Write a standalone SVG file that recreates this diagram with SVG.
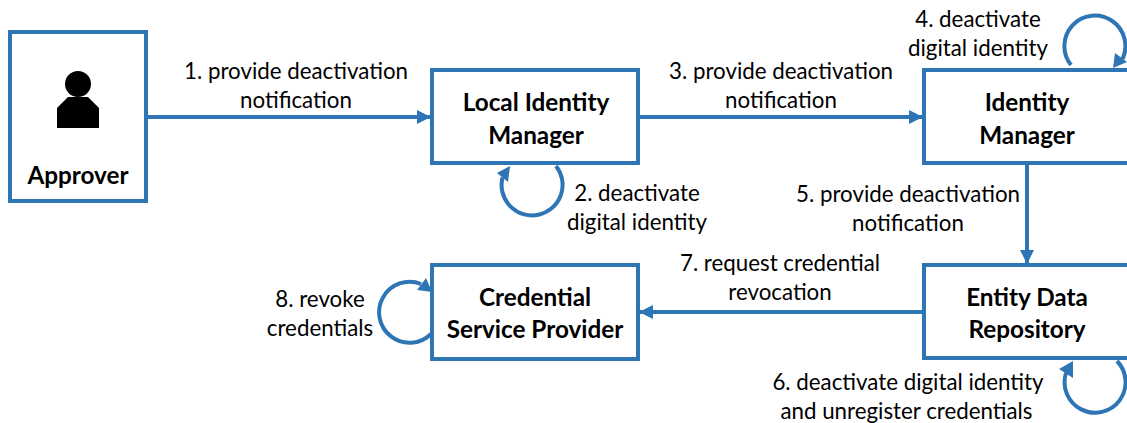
<svg xmlns="http://www.w3.org/2000/svg" width="1127" height="423" viewBox="0 0 1127 423">
<style>
text{font-family:"Lato","Carlito","Liberation Sans",sans-serif;fill:#000;font-size:22.300px;text-anchor:middle}
.n{fill:#fff;stroke:#2e75b6;stroke-width:4}
.b{font-weight:700;font-size:24.300px}
.c{fill:none;stroke:#2e75b6;stroke-width:4}
.h{fill:#2e75b6}
</style>
<defs>
<marker id="a" markerUnits="userSpaceOnUse" markerWidth="16" markerHeight="16" refX="14" refY="8" orient="auto"><path class="h" d="M0 1L14 8L0 15Z"/></marker>
</defs>
<rect width="1127" height="423" fill="#fff"/>
<g id="approver">
<rect class="n" x="10" y="32" width="136" height="169"/>
<circle cx="78" cy="84" r="13"/>
<path d="M68 97H88L99 108V128H57V108Z"/>
<text class="b" x="78" y="184">Approver</text>
</g>
<g id="local-identity-manager">
<rect class="n" x="432" y="70" width="206" height="93"/>
<text class="b" x="536" y="111">Local Identity</text>
<text class="b" x="536" y="144">Manager</text>
</g>
<g id="identity-manager">
<rect class="n" x="924" y="70" width="215" height="93"/>
<text class="b" x="1027" y="111">Identity</text>
<text class="b" x="1027" y="144">Manager</text>
</g>
<g id="entity-data-repository">
<rect class="n" x="924" y="265" width="215" height="93"/>
<text class="b" x="1027" y="306">Entity Data</text>
<text class="b" x="1027" y="338">Repository</text>
</g>
<g id="credential-service-provider">
<rect class="n" x="432" y="265" width="206" height="94"/>
<text class="b" x="535" y="306">Credential</text>
<text class="b" x="535" y="338">Service Provider</text>
</g>
<g id="connectors">
<path class="c" marker-end="url(#a)" d="M146 117H431"/>
<path class="c" marker-end="url(#a)" d="M638 117H923"/>
<path class="c" marker-end="url(#a)" d="M1027 163V264"/>
<path class="c" marker-end="url(#a)" d="M924 312H639"/>
<path class="c" d="M1071 65A30.500 30.500 0 1 1 1122.500 59"/>
<path class="h" d="M1113 68L1115 53L1127 62Z"/>
<path class="c" d="M556 166A30.500 30.500 0 1 1 502.500 177.500"/>
<path class="h" d="M510 166L497 173L508 182Z"/>
<path class="c" d="M431 334A30.500 30.500 0 1 1 421 284"/>
<path class="h" d="M432 292L417 290L426 278Z"/>
<path class="c" d="M1117 361A30.500 30.500 0 1 1 1066 373"/>
<path class="h" d="M1073 361L1059 369L1073 378Z"/>
</g>
<g id="labels">
<text x="296" y="79">1. provide deactivation</text>
<text x="296" y="108">notification</text>
<text x="637" y="201">2. deactivate</text>
<text x="637" y="230">digital identity</text>
<text x="781" y="79">3. provide deactivation</text>
<text x="781" y="108">notification</text>
<text x="978" y="27">4. deactivate</text>
<text x="978" y="56">digital identity</text>
<text x="908" y="202">5. provide deactivation</text>
<text x="908" y="231">notification</text>
<text x="908" y="390">6. deactivate digital identity</text>
<text x="906.500" y="419">and unregister credentials</text>
<text x="780" y="271">7. request credential</text>
<text x="780" y="300">revocation</text>
<text x="320" y="307">8. revoke</text>
<text x="320" y="336">credentials</text>
</g>
</svg>
